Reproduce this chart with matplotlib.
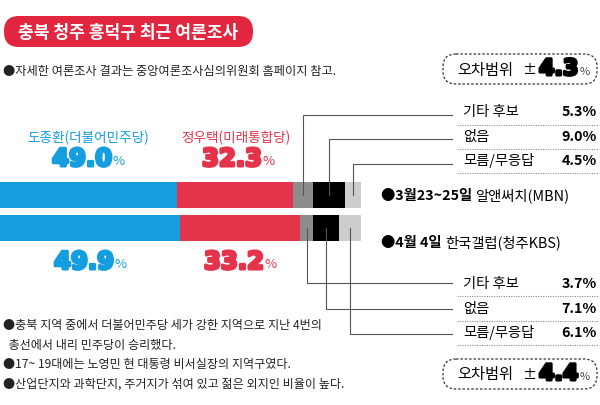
import matplotlib
matplotlib.use("Agg")
import matplotlib.pyplot as plt
from matplotlib.patches import FancyBboxPatch
import matplotlib.patheffects as pe

plt.rcParams['font.family'] = ['Noto Sans CJK KR', 'DejaVu Sans']

# 데이터
surveys = ["3월23~25일", "4월 4일"]
pollsters = ["알앤써치(MBN)", "한국갤럽(청주KBS)"]
candidates = ["도종환(더불어민주당)", "정우택(미래통합당)"]
do_vals = [49.0, 49.9]
jung_vals = [32.3, 33.2]
etc_labels = ["기타 후보", "없음", "모름/무응답"]
etc_vals = [[5.3, 9.0, 4.5], [3.7, 7.1, 6.1]]
margins = [4.3, 4.4]
notes = ["●충북 지역 중에서 더불어민주당 세가 강한 지역으로 지난 4번의",
         "  총선에서 내리 민주당이 승리했다.",
         "●17~ 19대에는 노영민 현 대통령 비서실장의 지역구였다.",
         "●산업단지와 과학단지, 주거지가 섞여 있고 젊은 외지인 비율이 높다."]

BLUE = "#149ddf"
RED = "#e5334b"
seg_colors = [BLUE, RED, "#8c8c8c", "#000000", "#cdcdcd"]

W, H = 600, 406
PX = 3.61  # 1% 당 픽셀

fig = plt.figure(figsize=(W / 100, H / 100), dpi=100)

# 막대 (퍼센트 단위)
axb = fig.add_axes([0, 0, 1, 1])
axb.set_xlim(0, W / PX)
axb.set_ylim(H, 0)
axb.axis("off")

bar_y = [196, 229]
centers = []
for i in range(2):
    vals = [do_vals[i], jung_vals[i]] + etc_vals[i]
    left = 0
    cs = []
    for v, c in zip(vals, seg_colors):
        axb.barh(bar_y[i], v, left=left, height=26, color=c, linewidth=0)
        cs.append(left + v / 2)
        left += v
    centers.append(cs[2:])

# 텍스트, 선 (픽셀 단위)
ax = fig.add_axes([0, 0, 1, 1], zorder=2)
ax.set_xlim(0, W)
ax.set_ylim(H, 0)
ax.axis("off")
ax.patch.set_alpha(0)

renderer = fig.canvas.get_renderer()


def runs(x, y, parts):
    for txt, kw in parts:
        t = ax.text(x, y, txt, va="center", ha="left", **kw)
        bb = t.get_window_extent(renderer)
        x += bb.width
    return x


# 제목
ax.add_patch(FancyBboxPatch((4, 17), 249, 31, boxstyle="round,pad=0,rounding_size=15",
                            fc="#e2263f", ec="none"))
ax.text(128, 32.5, "충북 청주 흥덕구 최근 여론조사", color="white", fontsize=12.3,
        fontweight="bold", ha="center", va="center")
ax.text(3, 72, "●자세한 여론조사 결과는 중앙여론조사심의위원회 홈페이지 참고.",
        fontsize=8.8, va="center", color="#222222")

# 후보 이름
ax.text(88, 138, candidates[0], color=BLUE, fontsize=9.8, ha="center", va="center")
ax.text(236, 138, candidates[1], color=RED, fontsize=9.8, ha="center", va="center")


def big_pct(cx, y, v, color):
    t = ax.text(0, y, f"{v:.1f}", fontsize=17.5, fontweight="heavy", family="DejaVu Sans",
                color=color, va="center", ha="left",
                path_effects=[pe.withStroke(linewidth=2.2, foreground=color)])
    w1 = t.get_window_extent(renderer).width
    p = ax.text(0, y + 2, "%", fontsize=9.5, color=color, va="center", ha="left")
    w2 = p.get_window_extent(renderer).width
    x0 = cx - (w1 + w2) / 2
    t.set_x(x0)
    p.set_x(x0 + w1 + 1)


big_pct(88, 160, do_vals[0], BLUE)
big_pct(238, 160, jung_vals[0], RED)
big_pct(90, 263, do_vals[1], BLUE)
big_pct(240, 263, jung_vals[1], RED)

# 조사 라벨
date_y = [196, 243]
for i in range(2):
    runs(381, date_y[i], [("●" + surveys[i] + " ", dict(fontsize=10.3, fontweight="bold")),
                          (pollsters[i], dict(fontsize=10.3))])

# 기타 항목 + 지시선
line_y = [[116, 140, 165], [284, 310, 335]]
text_y = [[112, 137, 161], [284, 309, 333]]
sep_y = [[126, 150, 174], [297, 322, 346]]
for i in range(2):
    for j in range(3):
        cx = centers[i][j] * PX
        ly = line_y[i][j]
        ax.plot([cx, cx, 452], [bar_y[i], ly, ly], color="#555555", lw=0.8,
                solid_joinstyle="miter")
        ax.text(463, text_y[i][j], etc_labels[j], fontsize=10.3, va="center", ha="left")
        ax.text(597, text_y[i][j], f"{etc_vals[i][j]:.1f}%", fontsize=10.3,
                fontweight="bold", va="center", ha="right")
        ax.plot([457, 599], [sep_y[i][j], sep_y[i][j]], color="#888888", lw=0.8,
                ls=(0, (1, 1.2)))

# 오차범위
box_y = [55, 360]
for i in range(2):
    y0 = box_y[i]
    ax.add_patch(FancyBboxPatch((443, y0), 154, 30, boxstyle="round,pad=0,rounding_size=13",
                                fc="none", ec="#333333", lw=0.9, ls=(0, (2, 1.5))))
    yc = y0 + 15
    ax.text(457, yc, "오차범위", fontsize=11, va="center", ha="left")
    ax.text(522, yc, "±", fontsize=10, va="center", ha="left")
    t = ax.text(539, yc, f"{margins[i]:.1f}", fontsize=16, fontweight="heavy",
                family="DejaVu Sans", va="center", ha="left",
                path_effects=[pe.withStroke(linewidth=2.2, foreground="black")])
    w = t.get_window_extent(renderer).width
    ax.text(539 + w + 1, yc + 2, "%", fontsize=8, va="center", ha="left", color="#444444")

# 하단 설명
note_y = [326, 346, 365, 384]
for s, y in zip(notes, note_y):
    ax.text(3, y, s, fontsize=8.7, va="center", ha="left", color="#222222")

fig.savefig("out.png", dpi=100)
